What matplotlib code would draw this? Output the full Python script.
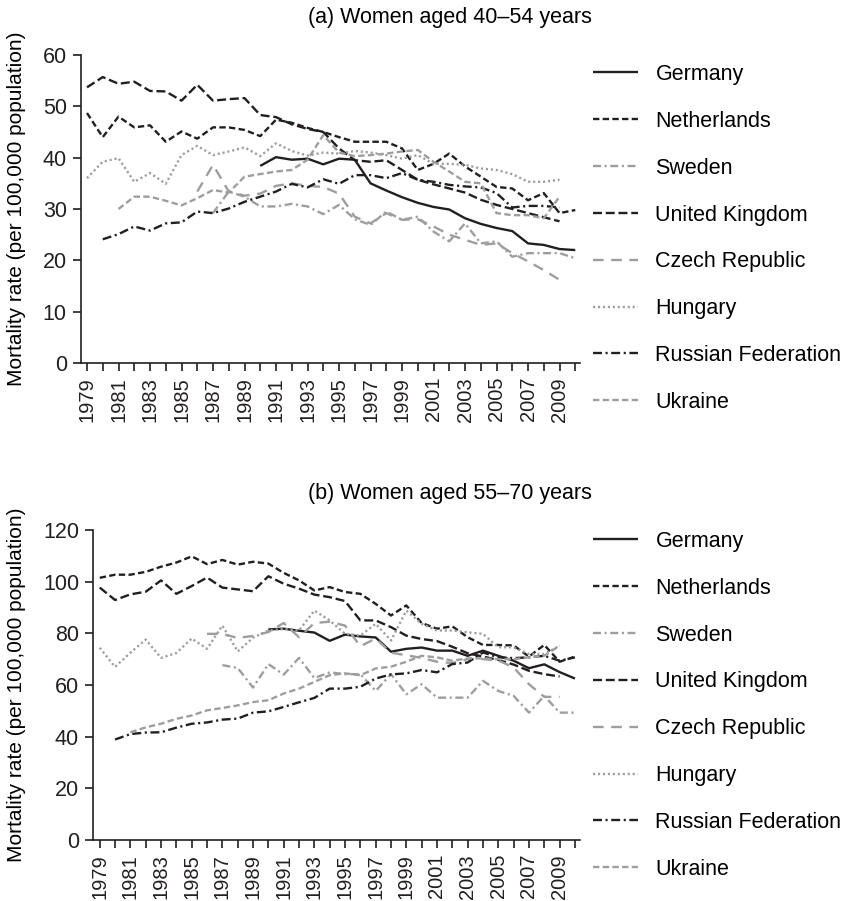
import numpy as np
import matplotlib.pyplot as plt

plt.rcParams['font.family'] = ['Liberation Sans', 'DejaVu Sans']
plt.rcParams['font.size'] = 15.5

# (a) women aged 40-54: (first year, rates per 100,000)
germany_a = (1990, [38.4, 40.1, 39.6, 39.8, 38.7, 39.8, 39.6, 35.0, 33.6, 32.3, 31.2,
                    30.4, 29.9, 28.2, 27.1, 26.3, 25.7, 23.3, 23.0, 22.2, 22.0])
netherlands_a = (1979, [48.7, 44.0, 48.0, 45.9, 46.3, 43.1, 45.1, 43.7, 45.9, 45.9, 45.4,
                        44.2, 47.4, 46.8, 45.8, 45.0, 44.0, 43.1, 43.1, 43.1, 41.8,
                        37.6, 38.8, 40.8, 38.3, 36.3, 34.3, 34.0, 31.7, 33.1, 29.2, 29.8])
sweden_a = (1987, [29.2, 33.4, 32.4, 30.5, 30.5, 31.0, 30.5, 29.0, 30.8, 28.0, 26.9, 29.5,
                   27.9, 28.5, 25.6, 23.7, 27.2, 23.3, 23.7, 20.7, 21.4, 21.4, 21.4, 20.4])
uk_a = (1979, [53.7, 55.7, 54.4, 54.8, 53.0, 52.9, 51.1, 54.2, 51.1, 51.4, 51.6,
               48.3, 47.9, 46.5, 45.6, 45.0, 41.8, 39.5, 39.2, 39.5, 37.6,
               35.7, 34.8, 34.0, 33.2, 31.8, 30.8, 30.0, 29.2, 28.4, 27.6])
czech_a = (1986, [33.4, 38.6, 33.4, 32.6, 33.0, 34.5, 35.0, 34.5, 34.3, 33.0, 28.5, 27.2,
                  29.2, 27.9, 28.0, 26.6, 25.0, 24.0, 23.0, 23.3, 21.4, 19.8, 18.1, 16.2])
hungary_a = (1979, [36.0, 39.2, 39.9, 35.3, 37.0, 34.9, 40.5, 42.3, 40.5, 41.2, 42.0,
                    40.3, 42.8, 41.3, 40.4, 41.0, 40.8, 41.3, 41.0, 40.5, 39.8,
                    40.5, 38.8, 38.8, 38.6, 37.9, 37.6, 36.8, 35.3, 35.3, 35.7])
russia_a = (1980, [24.1, 25.1, 26.6, 25.8, 27.2, 27.4, 29.5, 29.2, 30.1, 31.4,
                   32.4, 33.4, 34.9, 34.2, 35.8, 34.9, 36.6, 36.6, 36.0, 37.0,
                   35.7, 35.3, 34.7, 34.4, 34.2, 33.1, 30.3, 30.6, 30.6, 30.3])
ukraine_a = (1981, [30.0, 32.4, 32.4, 31.6, 30.7, 32.1, 33.7, 33.2, 36.3,
                    36.8, 37.3, 37.6, 39.6, 44.4, 41.0, 40.3, 40.5, 40.8, 41.2,
                    41.5, 39.2, 37.3, 35.3, 35.0, 29.2, 28.8, 28.8, 28.2, 32.4])

# (b) women aged 55-70
germany_b = (1990, [81.5, 81.8, 81.0, 80.3, 77.1, 79.5, 78.8, 78.4, 72.9, 74.0, 74.5,
                    73.3, 73.3, 71.3, 73.3, 71.3, 69.4, 66.5, 68.0, 65.0, 62.5])
netherlands_b = (1979, [101.5, 102.7, 102.7, 103.8, 105.8, 107.4, 109.8, 106.8, 108.4, 106.6, 107.7,
                        107.0, 103.4, 100.5, 96.6, 97.9, 96.0, 95.3, 91.4, 86.9, 90.8,
                        84.0, 81.8, 82.7, 78.5, 75.5, 75.5, 75.3, 71.0, 75.5, 69.0, 71.0])
sweden_b = (1987, [67.7, 66.6, 59.0, 68.1, 64.0, 70.5, 62.7, 64.9, 64.2, 64.2, 57.7, 64.2,
                   56.4, 60.3, 55.1, 55.1, 55.1, 61.6, 57.7, 55.8, 49.3, 55.8, 49.3, 49.3])
uk_b = (1979, [97.7, 92.9, 95.1, 96.1, 100.5, 95.3, 98.3, 101.6, 97.7, 97.0, 96.3,
               102.1, 99.2, 97.3, 95.0, 94.0, 92.5, 85.0, 85.0, 82.4, 79.1,
               77.8, 77.0, 74.8, 72.3, 71.0, 69.7, 67.9, 65.5, 64.2, 63.3])
czech_b = (1986, [79.8, 79.8, 78.2, 79.0, 80.5, 84.0, 78.5, 84.0, 84.5, 83.0, 75.0, 78.0,
                  72.5, 71.5, 70.5, 69.0, 68.5, 70.0, 70.0, 69.5, 66.8, 60.3, 55.4, 55.4])
hungary_b = (1979, [74.4, 67.0, 72.5, 77.6, 70.5, 72.4, 78.0, 74.0, 83.0, 73.0, 78.3,
                    81.1, 81.7, 81.1, 88.8, 85.0, 79.8, 79.1, 83.7, 77.2, 88.8,
                    83.7, 81.1, 81.1, 80.4, 79.8, 74.6, 74.6, 72.0, 72.0, 75.2])
russia_b = (1980, [38.9, 41.0, 41.6, 41.7, 43.5, 45.0, 45.5, 46.6, 47.0, 49.3,
                   49.8, 51.5, 53.3, 55.0, 58.6, 58.6, 59.3, 62.5, 64.1, 64.5,
                   65.8, 64.9, 68.1, 68.7, 72.6, 70.7, 70.4, 70.7, 71.3, 69.4, 70.7])
ukraine_b = (1981, [41.7, 43.6, 45.0, 46.9, 48.2, 50.2, 51.1, 52.1, 53.4,
                    54.1, 56.7, 58.6, 61.2, 63.8, 64.5, 63.8, 66.4, 67.1, 69.0,
                    71.3, 70.7, 69.4, 70.3, 70.3, 70.0, 70.0, 70.7, 71.3, 75.2])

countries = ['Germany', 'Netherlands', 'Sweden', 'United Kingdom',
             'Czech Republic', 'Hungary', 'Russian Federation', 'Ukraine']
years = np.arange(1979, 2011)

BLACK = '#231f20'
GREY = '#9e9e9e'
styles = [
    (BLACK, (0, ())),
    (BLACK, (0, (2.7, 1.4))),
    (GREY, (0, (3.4, 1.5, 0.9, 1.5))),
    (BLACK, (0, (3.8, 1.6))),
    (GREY, (0, (4.5, 3.2))),
    (GREY, (0, (0.9, 1.2))),
    (BLACK, (0, (3.8, 1.5, 0.9, 1.5))),
    (GREY, (0, (2.7, 1.4))),
]

fig = plt.figure(figsize=(8.43, 9.01), dpi=100)
W, H = 843, 901
ax_a = fig.add_axes([80.7 / W, 1 - 363 / H, (580 - 80.7) / W, 308 / H])
ax_b = fig.add_axes([93 / W, 1 - 840 / H, (580 - 93) / W, 310 / H])


def draw(ax, data, ymax, ystep, xlim, label_x, leg_top, title, title_y):
    handles = []
    for (start, vals), (col, dash), name in zip(data, styles, countries):
        x = np.arange(start, start + len(vals))
        ln, = ax.plot(x, vals, color=col, lw=1.7, linestyle=dash, label=name,
                      dash_capstyle='butt', solid_capstyle='butt')
        handles.append(ln)
    ax.set_xlim(*xlim)
    ax.set_ylim(0, ymax)
    ax.set_yticks(np.arange(0, ymax + 1, ystep))
    ax.set_xticks(years)
    ax.set_xticklabels([str(y) if y % 2 == 1 else '' for y in years], rotation=90,
                       fontsize=14.5)
    for s in ['top', 'right']:
        ax.spines[s].set_visible(False)
    for s in ['left', 'bottom']:
        ax.spines[s].set_linewidth(1.2)
        ax.spines[s].set_color(BLACK)
    ax.tick_params(direction='out', length=6, width=1.2, colors=BLACK, pad=4)
    ax.set_ylabel('Mortality rate (per 100,000 population)', fontsize=15)
    ax.yaxis.set_label_coords(label_x, 0.5)
    ax.legend(handles=handles, loc='upper left', frameon=False,
              bbox_to_anchor=(593 / W, 1 - leg_top / H), bbox_transform=fig.transFigure,
              borderpad=0, borderaxespad=0, handlelength=2.1, handletextpad=0.8,
              labelspacing=1.2)
    fig.text(450 / W, 1 - title_y / H, title, ha='center', va='center')


draw(ax_a, [germany_a, netherlands_a, sweden_a, uk_a, czech_a, hungary_a, russia_a, ukraine_a],
     60, 10, (1978.6, 2010.3), (26 - 80.7) / 499.3, 64, '(a) Women aged 40\u201354 years', 18)
draw(ax_b, [germany_b, netherlands_b, sweden_b, uk_b, czech_b, hungary_b, russia_b, ukraine_b],
     120, 20, (1978.56, 2010.33), (26 - 93) / 487, 531, '(b) Women aged 55\u201370 years', 494)

fig.savefig('out.png', dpi=100)
